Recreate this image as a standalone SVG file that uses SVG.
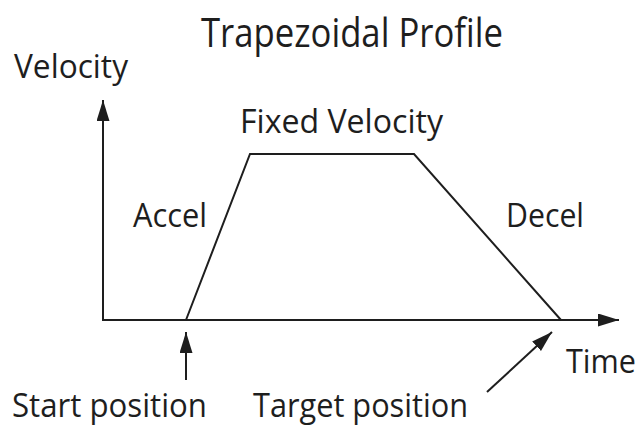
<svg xmlns="http://www.w3.org/2000/svg" width="641" height="426" viewBox="0 0 641 426">
  <style>
    .ln { fill: none; stroke: #1e1e1e; stroke-width: 2; }
    .lbl { font-family: "Open Sans", "Liberation Sans", sans-serif; font-size: 33px; fill: #1e1e1e; }
    .ttl { font-size: 40px; }
  </style>
  <defs>
    <marker id="head" markerUnits="userSpaceOnUse" markerWidth="22" markerHeight="14" refX="21" refY="6.5" orient="auto">
      <path d="M0,0 L21,6.5 L0,13 Z" fill="#1e1e1e"/>
    </marker>
  </defs>
  <rect width="641" height="426" fill="#ffffff"/>

  <g id="title">
    <text class="lbl ttl" x="201" y="47" textLength="302" lengthAdjust="spacingAndGlyphs">Trapezoidal Profile</text>
  </g>

  <g id="connectors">
    <!-- axes -->
    <line class="ln" x1="103" y1="321" x2="103" y2="100" marker-end="url(#head)"/>
    <line class="ln" x1="102" y1="320" x2="619" y2="320" marker-end="url(#head)"/>
    <!-- velocity profile -->
    <polyline class="ln" points="186,320 250,154 414,154 561,320"/>
    <!-- position pointers -->
    <line class="ln" x1="186" y1="380" x2="186" y2="332" marker-end="url(#head)"/>
    <line class="ln" x1="487" y1="392" x2="552" y2="332" marker-end="url(#head)"/>
  </g>

  <g id="velocity-axis">
    <text class="lbl" x="14" y="78" textLength="114" lengthAdjust="spacingAndGlyphs">Velocity</text>
  </g>
  <g id="time-axis">
    <text class="lbl" x="566" y="373" textLength="70" lengthAdjust="spacingAndGlyphs">Time</text>
  </g>
  <g id="fixed-velocity">
    <text class="lbl" x="240" y="133" textLength="203" lengthAdjust="spacingAndGlyphs">Fixed Velocity</text>
  </g>
  <g id="accel">
    <text class="lbl" x="133" y="227" textLength="74" lengthAdjust="spacingAndGlyphs">Accel</text>
  </g>
  <g id="decel">
    <text class="lbl" x="506" y="227" textLength="78" lengthAdjust="spacingAndGlyphs">Decel</text>
  </g>
  <g id="start-position">
    <text class="lbl" x="12" y="417" textLength="195" lengthAdjust="spacingAndGlyphs">Start position</text>
  </g>
  <g id="target-position">
    <text class="lbl" x="253" y="417" textLength="215" lengthAdjust="spacingAndGlyphs">Target position</text>
  </g>
</svg>
